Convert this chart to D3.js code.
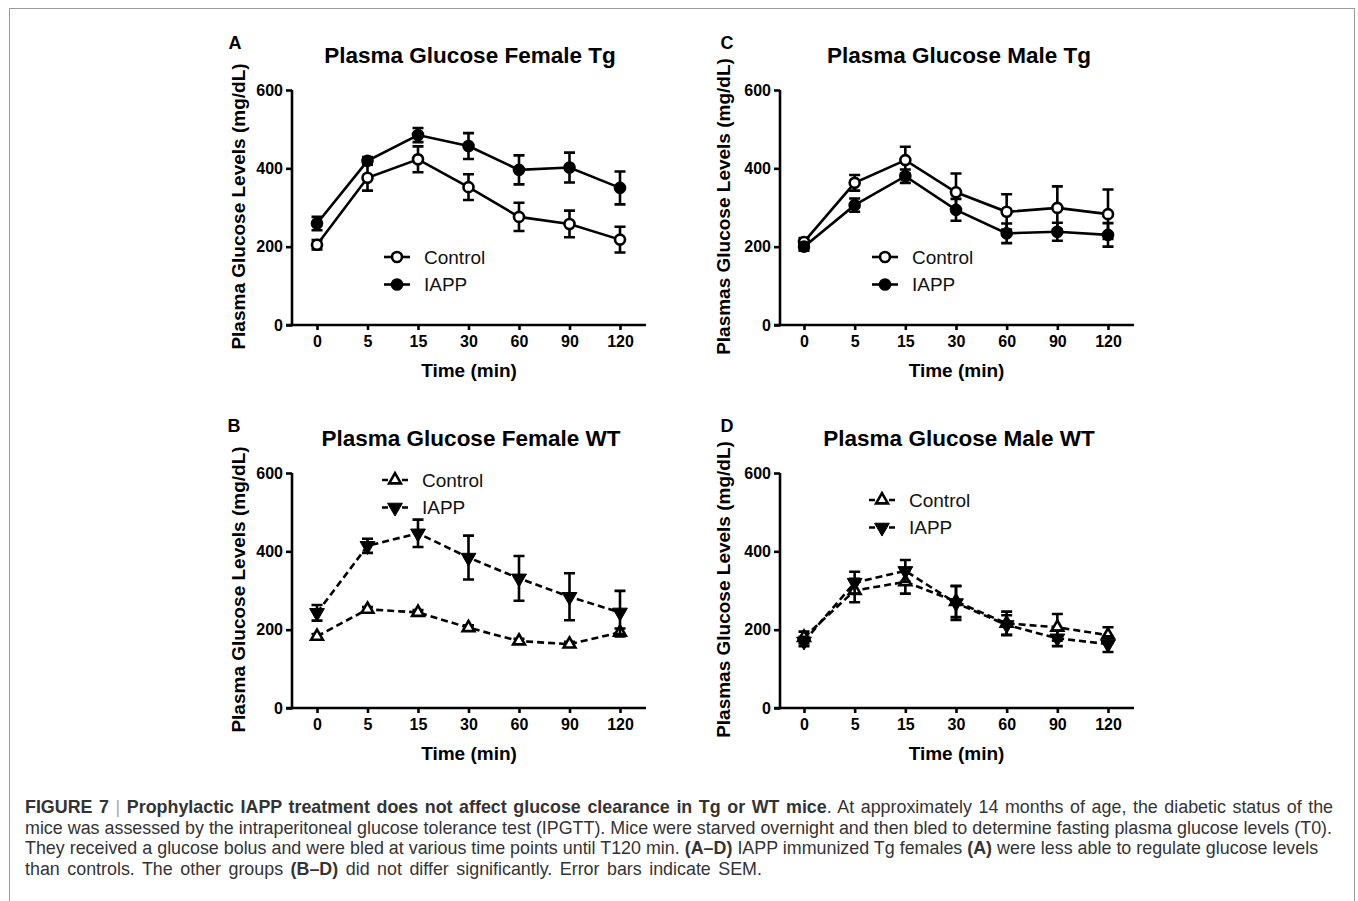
<!DOCTYPE html>
<html>
<head>
<meta charset="utf-8">
<script src="https://cdn.jsdelivr.net/npm/d3@7"></script>
<style>
  body { margin: 0; background: #fff; }
  svg { display: block; font-family: "Liberation Sans", Arial, sans-serif; }
</style>
</head>
<body>
<svg id="fig" width="1358" height="901"></svg>
<script>
// ---- data ----
const times = ["0", "5", "15", "30", "60", "90", "120"];
const yTicks = [0, 200, 400, 600];

// A: female Tg
const femTgControl    = [205, 376, 423, 352, 276, 258, 218];
const femTgControlErr = [12, 33, 33, 33, 36, 34, 33];
const femTgIAPP       = [259, 419, 485, 457, 396, 402, 350];
const femTgIAPPErr    = [17, 10, 18, 33, 37, 38, 42];

// C: male Tg
const maleTgControl    = [212, 363, 421, 339, 289, 299, 283];
const maleTgControlErr = [10, 20, 34, 48, 45, 55, 63];
const maleTgIAPP       = [200, 306, 380, 294, 234, 238, 230];
const maleTgIAPPErr    = [10, 17, 17, 28, 25, 23, 30];

// B: female WT
const femWtControl    = [183, 252, 244, 205, 171, 163, 193];
const femWtControlErr = [6, 6, 6, 6, 6, 6, 10];
const femWtIAPP       = [243, 414, 446, 384, 331, 284, 244];
const femWtIAPPErr    = [20, 18, 35, 56, 57, 60, 55];

// D: male WT
const maleWtControl    = [180, 300, 322, 272, 216, 206, 186];
const maleWtControlErr = [15, 30, 30, 40, 30, 34, 20];
const maleWtIAPP       = [170, 320, 350, 268, 212, 178, 163];
const maleWtIAPPErr    = [12, 28, 28, 43, 25, 20, 20];

const svg = d3.select("#fig");
const font = "'Liberation Sans', Arial, sans-serif";

// Frame round the figure
svg.append("rect").attr("x", 9.5).attr("y", 8.5).attr("width", 1345).attr("height", 920)
  .attr("fill", "none").attr("stroke", "#9a9a9a").attr("stroke-width", 1);

// Panel settings
const panels = [
  { letter: "A", title: "Plasma Glucose Female Tg", ylabel: "Plasma Glucose Levels (mg/dL)",
    left: 292, top: 90, bottom: 325, x0: 317, x1: 620, letterX: 235, titleX: 470, ylabX: 238,
    dashed: false, shapes: ["circle", "circle"],
    series: [[femTgControl, femTgControlErr], [femTgIAPP, femTgIAPPErr]],
    legend: { x: 397, y: 257 } },
  { letter: "C", title: "Plasma Glucose Male Tg", ylabel: "Plasmas Glucose Levels (mg/dL)",
    left: 780, top: 90, bottom: 325, x0: 804, x1: 1108, letterX: 727, titleX: 959, ylabX: 723,
    dashed: false, shapes: ["circle", "circle"],
    series: [[maleTgControl, maleTgControlErr], [maleTgIAPP, maleTgIAPPErr]],
    legend: { x: 885, y: 257 } },
  { letter: "B", title: "Plasma Glucose Female WT", ylabel: "Plasma Glucose Levels (mg/dL)",
    left: 292, top: 473, bottom: 708, x0: 317, x1: 620, letterX: 234, titleX: 471, ylabX: 238,
    dashed: true, shapes: ["up", "down"],
    series: [[femWtControl, femWtControlErr], [femWtIAPP, femWtIAPPErr]],
    legend: { x: 395, y: 480 } },
  { letter: "D", title: "Plasma Glucose Male WT", ylabel: "Plasmas Glucose Levels (mg/dL)",
    left: 780, top: 473, bottom: 708, x0: 804, x1: 1108, letterX: 727, titleX: 959, ylabX: 723,
    dashed: true, shapes: ["up", "down"],
    series: [[maleWtControl, maleWtControlErr], [maleWtIAPP, maleWtIAPPErr]],
    legend: { x: 882, y: 500 } }
];
const legendNames = ["Control", "IAPP"];
const lw = 2.6;

// Draw one marker
function marker(g, shape, filled, x, y) {
  if (shape == "circle") {
    g.append("circle").attr("cx", x).attr("cy", y).attr("r", 5)
      .attr("fill", filled ? "#000" : "#fff").attr("stroke", "#000").attr("stroke-width", lw);
  } else {
    let sym = d3.symbol().type(d3.symbolTriangle).size(filled ? 95 : 60);
    g.append("path").attr("d", sym())
      .attr("transform", "translate(" + x + "," + y + ")" + (shape == "down" ? " rotate(180)" : ""))
      .attr("fill", filled ? "#000" : "#fff").attr("stroke", "#000").attr("stroke-width", filled ? 1 : lw);
  }
}

panels.forEach((p) => {
  let g = svg.append("g");
  let x = d3.scalePoint().domain(times).range([p.x0, p.x1]);
  let y = d3.scaleLinear().domain([0, 600]).range([p.bottom, p.top]);

  // Axes
  let yAxis = d3.axisLeft(y).tickValues(yTicks).tickSize(6).tickSizeOuter(0).tickPadding(3);
  let xAxis = d3.axisBottom(x).tickSize(5).tickSizeOuter(0).tickPadding(6);
  let ya = g.append("g").attr("transform", "translate(" + p.left + ",0)").call(yAxis);
  let xa = g.append("g").attr("transform", "translate(0," + p.bottom + ")").call(xAxis);
  xa.select(".domain").attr("d", "M" + (p.left - 6) + ",0H" + (p.x1 + 26));
  [ya, xa].forEach((a) => {
    a.selectAll("path, line").attr("stroke", "#000").attr("stroke-width", lw);
    a.selectAll("text").attr("fill", "#000").style("font-family", font)
      .style("font-size", "16px").style("font-weight", "bold");
  });
  ya.select(".domain").attr("d", "M0," + (p.top) + "V" + (p.bottom + 1.3));

  // Labels
  g.append("text").text(p.letter).attr("x", p.letterX).attr("y", p.top - 41)
    .attr("text-anchor", "middle").style("font-size", "18px").style("font-weight", "bold");
  g.append("text").text(p.title).attr("x", p.titleX).attr("y", p.top - 27)
    .attr("text-anchor", "middle").style("font-size", "22.5px").style("font-weight", "bold");
  g.append("text").text("Time (min)").attr("x", (p.x0 + p.x1) / 2 + 0.5).attr("y", p.bottom + 52)
    .attr("text-anchor", "middle").style("font-size", "19px").style("font-weight", "bold");
  g.append("text").text(p.ylabel)
    .attr("transform", "translate(" + (p.ylabX + 7) + "," + ((p.top + p.bottom) / 2 - 1) + ") rotate(-90)")
    .attr("text-anchor", "middle").style("font-size", "19px").style("font-weight", "bold");

  // Series: line, error bars, markers
  p.series.forEach((s, si) => {
    let vals = s[0], errs = s[1];
    let pts = times.map((t, i) => ({ t: t, v: vals[i], e: errs[i] }));
    let line = d3.line().x((d) => x(d.t)).y((d) => y(d.v));
    g.append("path").datum(pts).attr("d", line).attr("fill", "none").attr("stroke", "#000")
      .attr("stroke-width", lw).attr("stroke-dasharray", p.dashed ? "7,4" : null);
    pts.forEach((d) => {
      let cx = x(d.t), yt = y(d.v + d.e), yb = y(d.v - d.e);
      g.append("path").attr("d", "M" + cx + "," + yt + "V" + yb + "M" + (cx - 5.5) + "," + yt + "H" + (cx + 5.5) + "M" + (cx - 5.5) + "," + yb + "H" + (cx + 5.5))
        .attr("fill", "none").attr("stroke", "#000").attr("stroke-width", lw);
    });
    pts.forEach((d) => marker(g, p.shapes[si], si == 1, x(d.t), y(d.v)));
  });

  // Legend
  legendNames.forEach((name, i) => {
    let ly = p.legend.y + i * 27.5;
    g.append("line").attr("x1", p.legend.x - 13).attr("x2", p.legend.x + 13).attr("y1", ly).attr("y2", ly)
      .attr("stroke", "#000").attr("stroke-width", lw).attr("stroke-dasharray", p.dashed ? "6,4" : null);
    marker(g, p.shapes[i], i == 1, p.legend.x, ly);
    g.append("text").text(name).attr("x", p.legend.x + 27).attr("y", ly + 6.5)
      .style("font-size", "19px").attr("fill", "#111");
  });
});

// Caption
const captionLines = [
  [["b", "FIGURE 7 "], ["sep", "|"], ["b", " Prophylactic IAPP treatment does not affect glucose clearance in Tg or WT mice"], ["r", ". At approximately 14 months of age, the diabetic status of the"]],
  [["r", "mice was assessed by the intraperitoneal glucose tolerance test (IPGTT). Mice were starved overnight and then bled to determine fasting plasma glucose levels (T0)."]],
  [["r", "They received a glucose bolus and were bled at various time points until T120 min. "], ["b", "(A–D)"], ["r", " IAPP immunized Tg females "], ["b", "(A)"], ["r", " were less able to regulate glucose levels"]],
  [["r", "than controls. The other groups "], ["b", "(B–D)"], ["r", " did not differ significantly. Error bars indicate SEM."]]
];
const captionEnds = [1333, 1332, 1318, 762];
let cap = svg.append("g").style("font-size", "16px").attr("fill", "#333");
let capTexts = captionLines.map((parts, li) => {
  let t = cap.append("text").attr("x", 25).attr("y", 813 + li * 20.6);
  parts.forEach((pt) => {
    t.append("tspan").text(pt[1])
      .style("font-weight", pt[0] == "b" ? "bold" : "normal")
      .attr("fill", pt[0] == "sep" ? "#aaa" : null);
  });
  return t;
});
// Fit font so the second line spans the same width as in the figure
let w2 = capTexts[1].node().getComputedTextLength();
cap.style("font-size", (16 * 1307 / w2).toFixed(2) + "px");
// Spread words so each line ends where it does in the figure
capTexts.forEach((t, li) => {
  let w = t.node().getComputedTextLength();
  let spaces = captionLines[li].map((pt) => pt[1]).join("").split(" ").length - 1;
  let extra = (captionEnds[li] - 25 - w) / spaces;
  if (extra > 0) t.style("word-spacing", extra.toFixed(2) + "px");
});
</script>
</body>
</html>
